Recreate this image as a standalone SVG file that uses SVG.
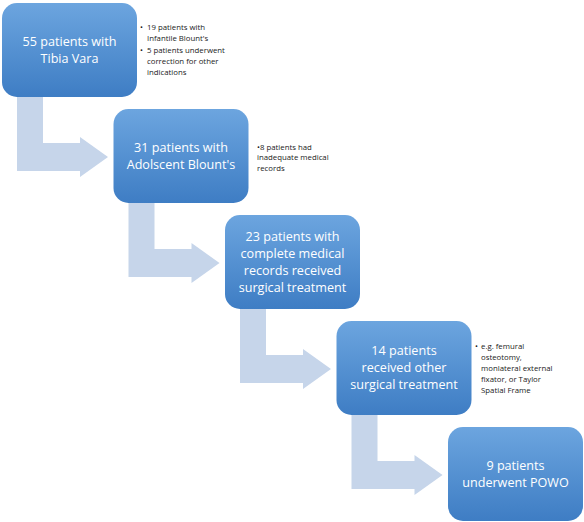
<svg xmlns="http://www.w3.org/2000/svg" width="584" height="522" viewBox="0 0 584 522">
<defs>
<linearGradient id="g" x1="0" y1="0" x2="0" y2="1">
<stop offset="0" stop-color="#6ca5df"/>
<stop offset="1" stop-color="#3e7dc4"/>
</linearGradient>
<path id="arr" d="M17,90 L43,90 L43,143 L80,143 L80,137 L108,157 L80,177 L80,171 L17,171 Z"/>
</defs>
<style>
.box{fill:url(#g);}
.arrow{fill:#c6d5ea;}
.t{font-family:"Open Sans","Noto Sans",sans-serif;font-size:12.6px;fill:#ffffff;text-anchor:middle;}
.n{font-family:"Open Sans","Noto Sans",sans-serif;font-size:7.8px;fill:#1a1a1a;}
</style>
<rect width="584" height="522" fill="#ffffff"/>
<g id="connectors">
<use href="#arr" class="arrow"/>
<use href="#arr" class="arrow" transform="translate(111.5,106)"/>
<use href="#arr" class="arrow" transform="translate(223,212)"/>
<use href="#arr" class="arrow" transform="translate(334.5,318)"/>
</g>
<g id="node1">
<rect class="box" x="2" y="3" width="135" height="94" rx="15"/>
<text class="t" x="69.5" y="46">55 patients with</text>
<text class="t" x="69.5" y="63">Tibia Vara</text>
</g>
<g id="note1">
<text class="n" x="140" y="30">•</text>
<text class="n" x="147" y="30">19 patients with</text>
<text class="n" x="147" y="41">Infantile Blount's</text>
<text class="n" x="140" y="53">•</text>
<text class="n" x="147" y="53">5 patients underwent</text>
<text class="n" x="147" y="64">correction for other</text>
<text class="n" x="147" y="75">indications</text>
</g>
<g id="node2">
<rect class="box" x="113.5" y="109" width="135" height="94" rx="15"/>
<text class="t" x="181" y="152">31 patients with</text>
<text class="t" x="181" y="169">Adolscent Blount's</text>
</g>
<g id="note2">
<text class="n" x="257" y="149.5">•8 patients had</text>
<text class="n" x="257" y="160">inadequate medical</text>
<text class="n" x="257" y="170.5">records</text>
</g>
<g id="node3">
<rect class="box" x="225" y="215" width="135" height="94" rx="15"/>
<text class="t" x="292.5" y="240.5">23 patients with</text>
<text class="t" x="292.5" y="257.5">complete medical</text>
<text class="t" x="292.5" y="274.5">records received</text>
<text class="t" x="292.5" y="291.5">surgical treatment</text>
</g>
<g id="node4">
<rect class="box" x="336.5" y="321" width="135" height="94" rx="15"/>
<text class="t" x="404" y="355">14 patients</text>
<text class="t" x="404" y="372">received other</text>
<text class="t" x="404" y="389">surgical treatment</text>
</g>
<g id="note4">
<text class="n" x="475" y="349">•</text>
<text class="n" x="481" y="349">e.g. femural</text>
<text class="n" x="481" y="360">osteotomy,</text>
<text class="n" x="481" y="371">monlateral external</text>
<text class="n" x="481" y="382">fixator, or Taylor</text>
<text class="n" x="481" y="393">Spatial Frame</text>
</g>
<g id="node5">
<rect class="box" x="448" y="427" width="135" height="94" rx="15"/>
<text class="t" x="515.5" y="470">9 patients</text>
<text class="t" x="515.5" y="487">underwent POWO</text>
</g>
</svg>
